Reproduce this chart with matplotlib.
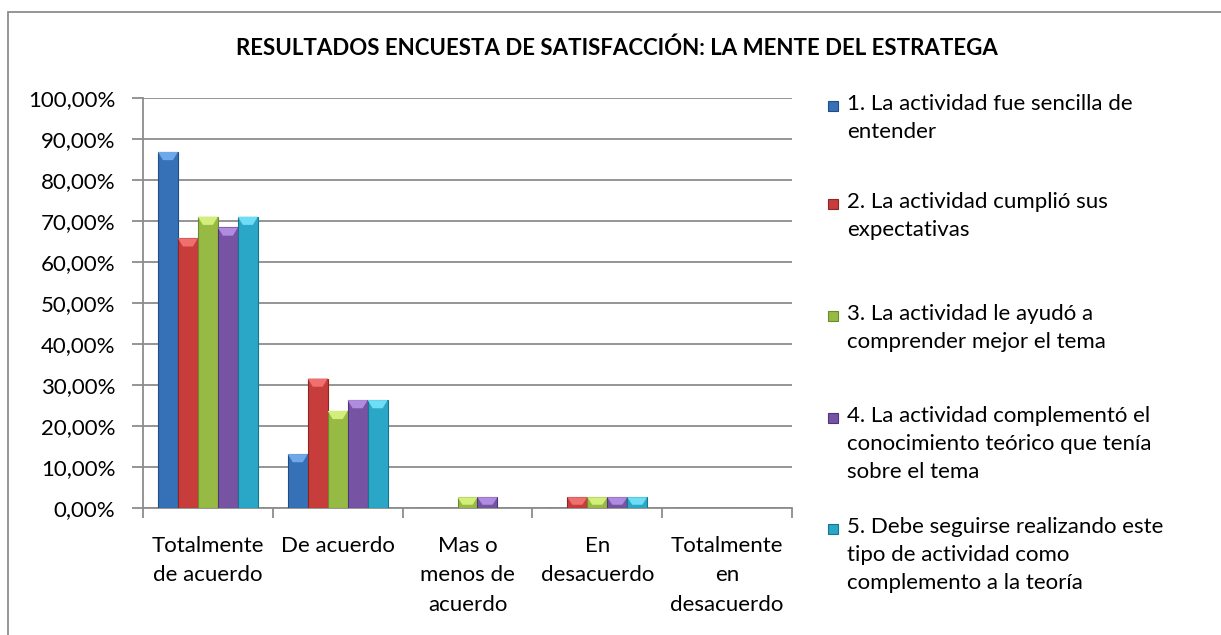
import numpy as np
import matplotlib
matplotlib.use("Agg")
from matplotlib import pyplot as plt
from matplotlib.patches import Rectangle
from matplotlib.ticker import FixedLocator, NullFormatter

plt.rcParams['font.family'] = ['Lato', 'DejaVu Sans']

# categories on the x axis
categories = ['Totalmente\nde acuerdo', 'De acuerdo', 'Mas o\nmenos de\nacuerdo',
              'En\ndesacuerdo', 'Totalmente\nen\ndesacuerdo']

# series values (percent of respondents)
q1 = [86.84, 13.16, 0.0, 0.0, 0.0]
q2 = [65.79, 31.58, 0.0, 2.63, 0.0]
q3 = [71.05, 23.68, 2.63, 2.63, 0.0]
q4 = [68.42, 26.32, 2.63, 2.63, 0.0]
q5 = [71.05, 26.32, 0.0, 2.63, 0.0]

series_labels = ['1. La actividad fue sencilla de\nentender',
                 '2. La actividad cumplió sus\nexpectativas',
                 '3. La actividad le ayudó a\ncomprender mejor el tema',
                 '4. La actividad complementó el\nconocimiento teórico que tenía\nsobre el tema',
                 '5. Debe seguirse realizando este\ntipo de actividad como\ncomplemento a la teoría']

colors = ['#3670B6', '#C73D3B', '#97BA44', '#7654A3', '#2AA7C6']
edges = ['#1F4E85', '#8E2424', '#6B8A2A', '#4E3578', '#17758E']
caps = ['#6FA8E8', '#F07070', '#D4EE7A', '#B08CE0', '#6FDDF5']

W, H = 1221, 635
fig = plt.figure(figsize=(W / 100, H / 100), dpi=100)
ax = fig.add_axes([143 / W, 1 - 508 / H, (792 - 143) / W, (508 - 98) / H])

series = [q1, q2, q3, q4, q5]
x = np.arange(len(categories))
bw = 20 / 130
cap_h = 2.0  # height of the light bevel at the top of the bars
for i, vals in enumerate(series):
    pos = x + (i - 2) * bw
    ax.bar(pos, vals, width=bw, color=colors[i],
           edgecolor=edges[i], linewidth=0.8, zorder=3)
    # light bevel on top of every bar
    for p, v in zip(pos, vals):
        if v <= 0:
            continue
        h = min(cap_h, v * 0.7)
        ax.fill([p - bw / 2, p + bw / 2, p + bw / 4, p - bw / 4],
                [v, v, v - h, v - h], color=caps[i], lw=0, zorder=4)

ax.set_xlim(-0.5, len(categories) - 0.5)
ax.set_ylim(0, 100)
ax.set_yticks(np.arange(0, 101, 10))
ax.set_yticklabels([f'{v},00%' for v in range(0, 101, 10)])
ax.yaxis.grid(True, color='#8C8C8C', linewidth=1.3, zorder=0)
ax.set_axisbelow(True)

ax.set_xticks(x)
ax.set_xticklabels(categories, linespacing=1.6)
ax.xaxis.set_minor_locator(FixedLocator(np.arange(-0.5, len(categories), 1)))
ax.xaxis.set_minor_formatter(NullFormatter())
ax.tick_params(axis='x', which='major', length=0, pad=20, labelsize=16)
ax.tick_params(axis='x', which='minor', length=7, color='#8C8C8C', width=1.3)
ax.tick_params(axis='y', length=8, color='#8C8C8C', width=1.3, pad=12, labelsize=16)

for s in ['top', 'right']:
    ax.spines[s].set_visible(False)
for s in ['left', 'bottom']:
    ax.spines[s].set_color('#8C8C8C')
    ax.spines[s].set_linewidth(1.3)

fig.text(617 / W, 1 - 48 / H, 'RESULTADOS ENCUESTA DE SATISFACCIÓN: LA MENTE DEL ESTRATEGA',
         ha='center', va='center', fontsize=16, fontweight='bold')

# legend drawn by hand
legend_y = [106, 204, 316, 418, 529]
for i, lab in enumerate(series_labels):
    yy = 1 - legend_y[i] / H
    fig.patches.append(Rectangle((828 / W, yy - 5 / H), 10 / W, 10 / H,
                                 transform=fig.transFigure, facecolor=colors[i],
                                 edgecolor=edges[i], linewidth=0.8))
    fig.text(847 / W, yy + 12 / H, lab, ha='left', va='top', fontsize=16,
             linespacing=1.5)

# outer chart border
fig.patches.append(Rectangle((8 / W, -0.1), 1.1, 1.1 - 12 / H,
                             transform=fig.transFigure, fill=False,
                             edgecolor='#8C8C8C', linewidth=1.3))

fig.savefig('out.png', dpi=100)
